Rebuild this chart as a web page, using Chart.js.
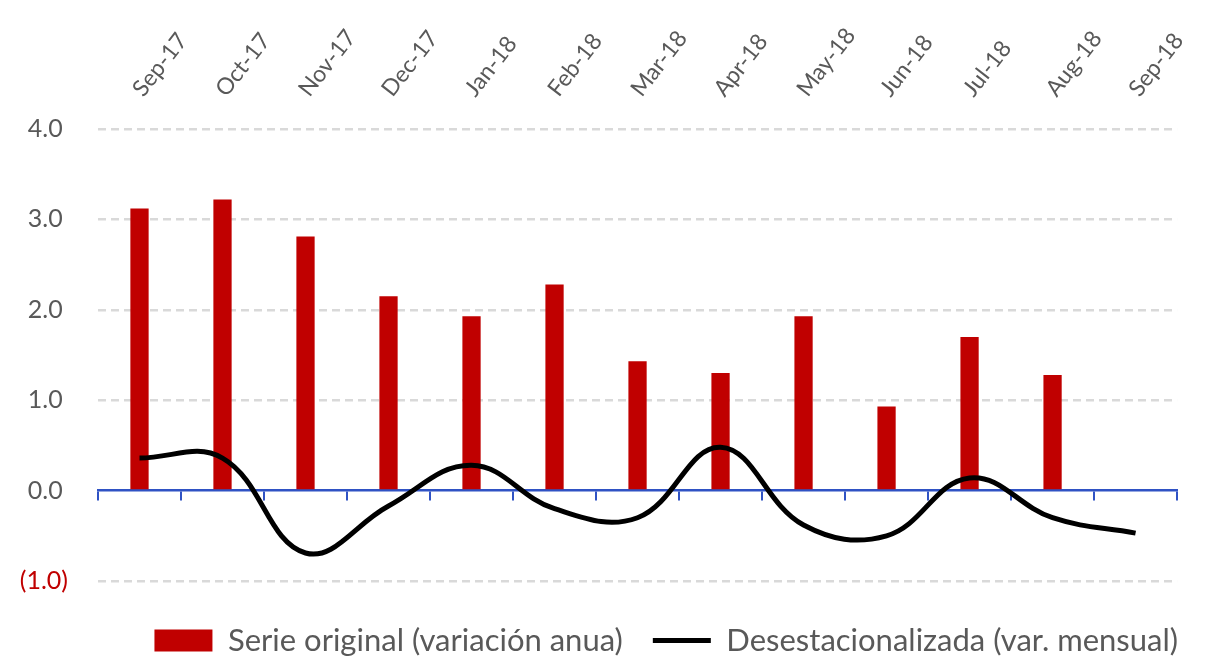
<!DOCTYPE html>
<html>
<head>
<meta charset="utf-8">
<script src="https://cdn.jsdelivr.net/npm/chart.js@4.4.1/dist/chart.umd.min.js"></script>
<style>
  html, body { margin: 0; padding: 0; background: #ffffff; overflow: hidden; }
  #wrap { width: 1208px; height: 670px; position: relative; }
</style>
</head>
<body>
<div id="wrap"><canvas id="ipcChart"></canvas></div>
<script>
const labels = [
  "Sep-17", "Oct-17", "Nov-17", "Dec-17", "Jan-18", "Feb-18", "Mar-18",
  "Apr-18", "May-18", "Jun-18", "Jul-18", "Aug-18", "Sep-18",
];
const serieOriginal = [3.12, 3.22, 2.81, 2.15, 1.93, 2.28, 1.43, 1.3, 1.93, 0.93, 1.7, 1.28, null];
const desestacionalizada = [0.36, 0.36, -0.69, -0.17, 0.28, -0.2, -0.3, 0.48, -0.38, -0.5, 0.14, -0.3, -0.47];
const yTicks = [-1, 0, 1, 2, 3, 4];

const fontFamily = "Lato, 'Open Sans', sans-serif";
const grey = "#595959";
const red = "#c00000";
const axisBlue = "#2f52c4";

// excel style "0.0_);(0.0)": positives keep a small trailing space
function formatTick(v) {
  return v < 0 ? `(${Math.abs(v).toFixed(1)})` : `${v.toFixed(1)}\u2008`;
}

function initChart() {
  const ctx = document.getElementById("ipcChart").getContext("2d");

  new Chart(ctx, {
    type: "bar",
    data: {
      labels: labels,
      datasets: [
        {
          label: "Serie original (variación anua)",
          data: serieOriginal,
          xAxisID: "x",
          yAxisID: "y",
          backgroundColor: red,
          borderWidth: 0,
          barPercentage: 0.22,
          categoryPercentage: 1,
          pointStyle: "rect",
          order: 1,
        },
        {
          type: "line",
          label: "Desestacionalizada (var. mensual)",
          data: desestacionalizada,
          xAxisID: "x",
          yAxisID: "y",
          borderColor: "#000000",
          backgroundColor: "#000000",
          borderWidth: 5,
          tension: 0.4,
          pointRadius: 0,
          pointStyle: "line",
          order: 0,
        },
      ],
    },
    options: {
      responsive: true,
      maintainAspectRatio: false,
      animation: false,
      layout: { padding: { left: 10, right: 0, top: 0, bottom: 4 } },
      plugins: {
        tooltip: { enabled: false },
        legend: {
          position: "bottom",
          align: "end",
          labels: {
            usePointStyle: true,
            pointStyleWidth: 58,
            boxHeight: 22,
            padding: 30,
            color: grey,
            font: { family: fontFamily, size: 31 },
            sort: (a, b) => a.datasetIndex - b.datasetIndex,
          },
        },
      },
      scales: {
        x: {
          position: "top",
          offset: true,
          grid: { display: false, drawTicks: false },
          border: { display: false },
          ticks: {
            color: grey,
            font: { family: fontFamily, size: 23 },
            minRotation: 52,
            maxRotation: 52,
            padding: 27,
            labelOffset: 20,
            autoSkip: false,
          },
          afterFit: (s) => { s.height = 129; },
        },
        y: {
          min: -1,
          max: 4,
          afterBuildTicks: (s) => { s.ticks = yTicks.map((v) => ({ value: v })); },
          grid: {
            color: (c) => (c.tick && c.tick.value === 0 ? "rgba(0,0,0,0)" : "#d9d9d9"),
            lineWidth: 2.5,
            drawTicks: false,
          },
          border: { display: false, dash: [8, 5] },
          ticks: {
            padding: 30,
            color: (c) => (c.tick.value < 0 ? red : grey),
            font: { family: fontFamily, size: 25 },
            callback: (v) => formatTick(v),
          },
          afterFit: (s) => { s.width = 88; },
        },
        x2: {
          type: "category",
          labels: labels,
          position: { y: 0 },
          offset: true,
          grid: {
            offset: true,
            drawOnChartArea: false,
            drawTicks: true,
            tickLength: 9,
            color: axisBlue,
            lineWidth: 2,
          },
          border: { display: true, color: axisBlue, width: 2.5 },
          ticks: { display: false },
          afterFit: (s) => { s.height = 0; },
        },
        // empty axes that only reserve space below and right of the plot
        padB: {
          type: "linear",
          position: "bottom",
          grid: { display: false },
          border: { display: false },
          ticks: { display: false },
          afterFit: (s) => { s.height = 14; },
        },
        padR: {
          type: "linear",
          position: "right",
          grid: { display: false },
          border: { display: false },
          ticks: { display: false },
          afterFit: (s) => { s.width = 18; },
        },
      },
    },
  });
}

document.addEventListener("DOMContentLoaded", initChart);
</script>
</body>
</html>
